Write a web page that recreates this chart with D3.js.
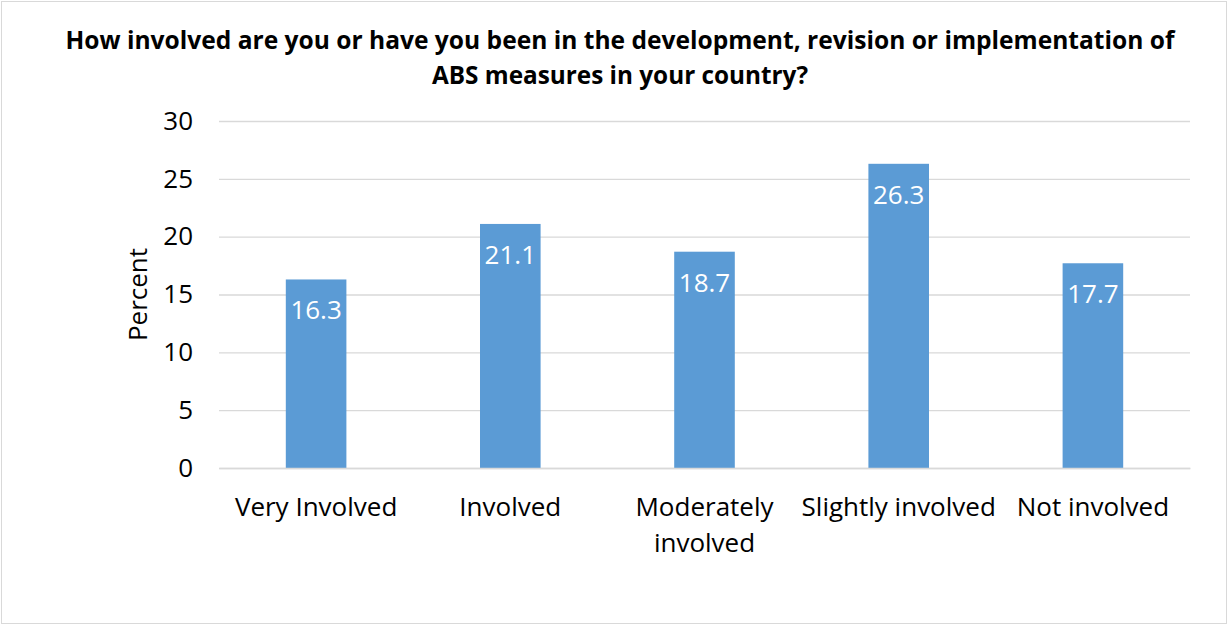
<!DOCTYPE html>
<html>
<head>
<meta charset="utf-8">
<script src="https://cdn.jsdelivr.net/npm/d3@7.9.0/dist/d3.min.js"></script>
<style>
  html, body { margin: 0; padding: 0; background: #fff; }
  svg { display: block; font-family: "Open Sans", Lato, sans-serif; }
</style>
</head>
<body>
<div id="chart"></div>
<script>
const categories = [['Very Involved'], ['Involved'], ['Moderately', 'involved'], ['Slightly involved'], ['Not involved']];
const values = [16.3, 21.1, 18.7, 26.3, 17.7];
const yTicks = [0, 5, 10, 15, 20, 25, 30];
const titleLines = [
  'How involved are you or have you been in the development, revision or implementation of',
  'ABS measures in your country?'
];
const titleWidths = [1109, 376];

const width = 1228;
const height = 625;
const area = { left: 219, right: 1190, top: 121, bottom: 468 };
const fs = 26;

const rows = categories.map((c, i) => ({ key: c.join(' '), lines: c, value: values[i] }));

const svg = d3.select('#chart')
  .append('svg')
  .attr('width', width)
  .attr('height', height);

svg.append('rect')
  .attr('x', 1.5).attr('y', 1.5)
  .attr('width', width - 3).attr('height', height - 3)
  .attr('fill', '#fff')
  .attr('stroke', '#d9d9d9');

svg.append('g')
  .selectAll('text')
  .data(titleLines)
  .join('text')
  .attr('x', 620)
  .attr('y', (d, i) => 49 + i * 35)
  .attr('text-anchor', 'middle')
  .attr('font-weight', 'bold')
  .attr('font-size', 25)
  .attr('textLength', (d, i) => titleWidths[i])
  .attr('lengthAdjust', 'spacingAndGlyphs')
  .attr('fill', '#000')
  .text((d) => d);

const x = d3.scaleBand()
  .domain(rows.map((d) => d.key))
  .range([area.left, area.right])
  .paddingInner(0.688)
  .paddingOuter(0.344);

const y = d3.scaleLinear()
  .domain([0, 30])
  .range([area.bottom, area.top]);

// gridlines
svg.append('g')
  .attr('transform', `translate(${area.left}, 0)`)
  .call(d3.axisLeft(y).tickValues(yTicks).tickFormat('').tickSize(-(area.right - area.left)))
  .call((g) => g.select('.domain').remove())
  .call((g) => g.selectAll('line').attr('stroke', '#d9d9d9').attr('stroke-width', 1.3));

// y labels
svg.append('g')
  .attr('transform', `translate(${area.left}, 0)`)
  .call(d3.axisLeft(y).tickValues(yTicks).tickSize(0).tickPadding(26))
  .call((g) => g.select('.domain').remove())
  .call((g) => g.selectAll('text')
    .attr('font-family', '"Open Sans", sans-serif')
    .attr('font-size', fs)
    .attr('fill', '#000'));

svg.append('text')
  .attr('transform', `translate(147, ${(area.top + area.bottom) / 2}) rotate(-90)`)
  .attr('text-anchor', 'middle')
  .attr('font-size', fs)
  .attr('fill', '#000')
  .text('Percent');

svg.append('g')
  .selectAll('rect')
  .data(rows)
  .join('rect')
  .attr('x', (d) => x(d.key))
  .attr('y', (d) => y(d.value))
  .attr('width', x.bandwidth())
  .attr('height', (d) => y(0) - y(d.value))
  .attr('fill', '#5b9bd5');

svg.append('g')
  .selectAll('text')
  .data(rows)
  .join('text')
  .attr('x', (d) => x(d.key) + x.bandwidth() / 2)
  .attr('y', (d) => y(d.value) + 40)
  .attr('text-anchor', 'middle')
  .attr('font-size', fs)
  .attr('fill', '#fff')
  .text((d) => d.value.toFixed(1));

// x axis line on top of bars
svg.append('g')
  .attr('transform', `translate(0, ${area.bottom})`)
  .call(d3.axisBottom(x).tickSize(0).tickFormat(''))
  .call((g) => g.select('.domain').attr('stroke', '#d9d9d9').attr('stroke-width', 1.3));

const xl = svg.append('g')
  .selectAll('text')
  .data(rows)
  .join('text')
  .attr('x', (d) => x(d.key) + x.bandwidth() / 2)
  .attr('y', 516)
  .attr('text-anchor', 'middle')
  .attr('font-size', fs)
  .attr('fill', '#000');

xl.selectAll('tspan')
  .data((d) => d.lines.map((l) => ({ l, cx: x(d.key) + x.bandwidth() / 2 })))
  .join('tspan')
  .attr('x', (d) => d.cx)
  .attr('dy', (d, i) => (i === 0 ? 0 : 36))
  .text((d) => d.l);
</script>
</body>
</html>
